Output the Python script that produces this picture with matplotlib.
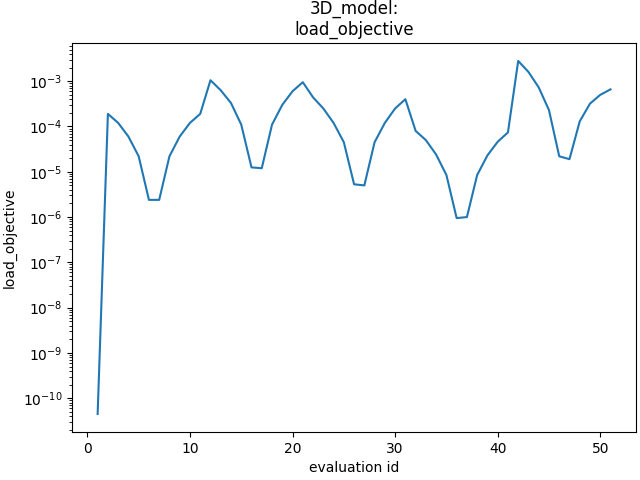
import numpy as np
import matplotlib
matplotlib.use("Agg")
import matplotlib.pyplot as plt

evaluation_id = np.arange(1, 52)
load_objective = [
    4.5e-11, 1.9e-4, 1.2e-4, 6e-5, 2.2e-5, 2.4e-6, 2.4e-6, 2.2e-5, 6e-5, 1.2e-4,
    1.9e-4, 1.05e-3, 6.3e-4, 3.3e-4, 1.1e-4, 1.25e-5, 1.2e-5, 1.1e-4, 3e-4, 6e-4,
    9.5e-4, 4.4e-4, 2.5e-4, 1.2e-4, 4.5e-5, 5.3e-6, 5e-6, 4.5e-5, 1.2e-4, 2.5e-4,
    4e-4, 8e-5, 5e-5, 2.4e-5, 8.5e-6, 9.5e-7, 1e-6, 8.5e-6, 2.3e-5, 4.6e-5,
    7.4e-5, 2.8e-3, 1.6e-3, 7.3e-4, 2.3e-4, 2.2e-5, 1.9e-5, 1.3e-4, 3.2e-4, 5e-4,
    6.6e-4,
]

fig, ax = plt.subplots(figsize=(6.4, 4.8))
ax.plot(evaluation_id, load_objective)
ax.set_yscale("log")
ax.set_ylim(1.8e-11, 6.9e-3)
ax.set_xlabel("evaluation id")
ax.set_ylabel("load_objective")
ax.set_title("3D_model:\nload_objective")
fig.subplots_adjust(left=0.1125, right=0.994, top=0.91, bottom=0.1)
plt.savefig("out.png")
